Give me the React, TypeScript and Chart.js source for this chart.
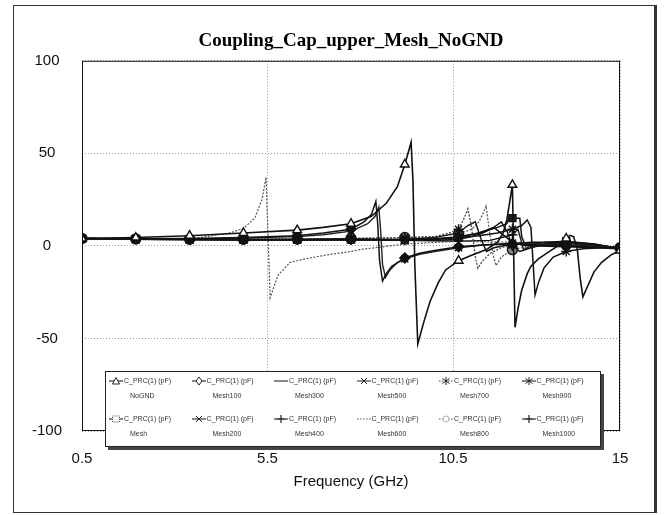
import React, { useEffect, useRef } from "react";
import { Chart, registerables } from "chart.js";
Chart.register(...registerables);

const chartTitle = "Coupling_Cap_upper_Mesh_NoGND";
const xTitle = "Frequency (GHz)";
const legendPrefix = "C_PRC(1) (pF)";
const xTicks = [0.5, 5.5, 10.5, 15];
const yTicks = [-100, -50, 0, 50, 100];
const markerFreqs = [0.5, 1.95, 3.4, 4.85, 6.3, 7.75, 9.2, 10.65, 12.1, 13.55, 15];

const seriesNames = ["NoGND", "Mesh100", "Mesh300", "Mesh500", "Mesh700", "Mesh900", "Mesh", "Mesh200", "Mesh400", "Mesh600", "Mesh800", "Mesh1000"];

const fNoGND = [0.5, 1.95, 3.4, 4.85, 6.3, 7.0, 7.75, 8.3, 8.7, 9.0, 9.2, 9.3, 9.37, 9.42, 9.47, 9.55, 9.7, 9.88, 10.1, 10.3, 10.65, 11.0, 11.4, 11.7, 11.85, 11.95, 12.03, 12.1, 12.13, 12.17, 12.25, 12.35, 12.5, 12.6, 12.8, 13.1, 13.4, 13.55, 13.65, 13.75, 13.85, 13.93, 14.0, 14.1, 14.3, 14.5, 14.75, 15];
const vNoGND = [4, 4.5, 5.5, 7, 8.5, 10, 12, 16, 23, 32, 44, 51, 56, 35, -10, -53, -42, -30, -20, -13, -8, -5, -2, 2, 7, 14, 24, 33, 0, -44, -34, -24, -15, -11, -7, -3, 1, 4, 5.7, 5, -2, -18, -27.5, -23, -14, -9, -5, -2.5];

const fMesh100 = [0.5, 1.95, 3.4, 4.85, 6.3, 7.0, 7.75, 8.1, 8.3, 8.42, 8.47, 8.52, 8.6, 8.7, 8.85, 9.2, 9.6, 10.0, 10.65, 11.3, 12.1, 12.8, 13.55, 14.3, 15];
const vMesh100 = [4, 3.8, 4, 4.5, 5.5, 7, 9, 13, 17, 24, 12, -8, -19, -15, -11, -6.5, -4, -2.5, -0.5, 0.5, 1, 0.5, 0, -0.5, -1];

const fMesh300 = [0.5, 1.95, 3.4, 4.85, 6.3, 7.75, 9.2, 10.0, 10.65, 11.0, 11.3, 11.6, 11.85, 12.1, 12.4, 12.8, 13.55, 14.3, 15];
const vMesh300 = [4, 3.8, 3.6, 3.5, 3.5, 3.8, 3, 3, 3.5, 5, 7, 10, 6, 2, 0.5, 0, -0.5, -1, -1.5];

const fMesh500 = [0.5, 1.95, 3.4, 4.85, 6.3, 7.0, 7.75, 8.2, 8.4, 8.5, 8.55, 8.6, 8.68, 8.8, 9.0, 9.2, 9.6, 10.0, 10.65, 11.3, 12.1, 12.8, 13.55, 14.3, 15];
const vMesh500 = [4, 3.8, 3.8, 4.2, 5, 6, 8, 12, 16, 21, 8, -10, -17, -13, -9, -7, -4.5, -3, -1, 0.5, 1.5, 1, 0.5, 0, -1];

const fMesh700 = [0.5, 1.95, 3.4, 4.85, 6.3, 7.75, 9.2, 10.0, 10.4, 10.65, 10.8, 10.9, 11.0, 11.1, 11.17, 11.3, 11.5, 11.8, 12.1, 12.6, 13.55, 14.3, 15];
const vMesh700 = [4, 3.8, 3.6, 3.6, 3.8, 4, 4.5, 5, 7, 9, 15, 20, 10, -6, -12, -8, -4, -1, 0.5, 1, 0, -0.5, -1];

const fMesh900 = [0.5, 1.95, 3.4, 4.85, 6.3, 7.75, 9.2, 10.0, 10.65, 11.2, 11.7, 12.1, 12.35, 12.5, 12.6, 12.66, 12.71, 12.8, 12.95, 13.2, 13.55, 14.0, 14.5, 15];
const vMesh900 = [4, 3.8, 3.6, 3.5, 3.5, 3.5, 3.5, 3.8, 4.5, 5.5, 7, 9, 11, 14, 10, -10, -26.5, -20, -12, -6, -3, -1.5, -1, -1];

const fMesh = [0.5, 1.95, 3.4, 4.85, 6.3, 7.75, 9.2, 10.0, 10.65, 11.2, 11.7, 11.95, 12.0, 12.1, 12.3, 12.35, 12.45, 12.7, 13.0, 13.55, 14.3, 15];
const vMesh = [4, 3.6, 3.4, 3.3, 3.3, 3.4, 3.2, 3.5, 4.5, 7, 10, 12, 15, 15, 15, 5, 0, 1, 2, 2.5, 1, -1.5];

const fMesh200 = [0.5, 1.95, 3.4, 4.85, 6.3, 7.75, 9.2, 10.0, 10.65, 10.9, 11.1, 11.25, 11.4, 11.6, 12.1, 12.6, 13.55, 14.3, 15];
const vMesh200 = [4, 3.6, 3.4, 3.3, 3.3, 3.5, 3.6, 4.5, 7, 11, 13, 4, -3, -1, 1, 2, 2, 0.5, -1];

const fMesh400 = [0.5, 1.95, 3.4, 4.85, 6.3, 7.75, 9.2, 10.0, 10.65, 11.2, 11.6, 11.8, 11.95, 12.1, 12.3, 12.6, 13.0, 13.55, 14.3, 15];
const vMesh400 = [4, 3.6, 3.4, 3.3, 3.3, 3.3, 3.4, 3.8, 5, 7, 10, 13, 8, 0, -3, -1, 1, 2, 1, -1.5];

const fMesh600 = [0.5, 1.95, 3.4, 3.68, 4.49, 4.85, 5.16, 5.35, 5.46, 5.57, 5.78, 6.1, 6.3, 6.51, 7.18, 7.75, 7.99, 9.2, 10.65, 12.1, 13.55, 15];
const vMesh600 = [4, 4, 4, 4.5, 7, 9.5, 15, 25, 37, -28, -16, -9, -8, -7, -4.6, -3, -2, 1, 2.5, 2, 1, -1];

const fMesh800 = [0.5, 1.95, 3.4, 4.85, 6.3, 7.75, 9.2, 10.0, 10.65, 11.0, 11.2, 11.32, 11.39, 11.48, 11.58, 11.66, 11.8, 12.1, 12.6, 13.55, 14.3, 15];
const vMesh800 = [4, 3.8, 3.6, 3.6, 3.8, 4, 4.5, 5, 6.5, 9, 13, 18, 21.6, 8, -5, -10.6, -6, -2, 0, 0.5, 0, -1];

const fMesh1000 = [0.5, 1.95, 3.4, 4.85, 6.3, 7.75, 9.2, 10.65, 11.5, 12.1, 12.25, 12.4, 12.6, 13.55, 14.3, 15];
const vMesh1000 = [4, 3.6, 3.4, 3.3, 3.2, 3.2, 3, 2.5, 3, 6, 9, -2, 0, 1.5, 0, -1.5];

const seriesFreqs = [fNoGND, fMesh100, fMesh300, fMesh500, fMesh700, fMesh900, fMesh, fMesh200, fMesh400, fMesh600, fMesh800, fMesh1000];
const seriesValues = [vNoGND, vMesh100, vMesh300, vMesh500, vMesh700, vMesh900, vMesh, vMesh200, vMesh400, vMesh600, vMesh800, vMesh1000];

type Sty = { color: string; dash: number[]; marker: string | null; fill: string; width: number };
const styles: Sty[] = [
  { color: "#111", dash: [], marker: "triangle", fill: "#fff", width: 1.6 },
  { color: "#111", dash: [], marker: "rectRot", fill: "#111", width: 1.5 },
  { color: "#111", dash: [], marker: null, fill: "#fff", width: 1.5 },
  { color: "#222", dash: [], marker: "crossRot", fill: "#fff", width: 1.4 },
  { color: "#444", dash: [2, 1.5], marker: "star", fill: "#fff", width: 1.3 },
  { color: "#111", dash: [], marker: "star", fill: "#fff", width: 1.5 },
  { color: "#111", dash: [], marker: "rect", fill: "#222", width: 1.5 },
  { color: "#111", dash: [], marker: "crossRot", fill: "#fff", width: 1.4 },
  { color: "#111", dash: [], marker: "cross", fill: "#fff", width: 1.4 },
  { color: "#555", dash: [2, 1.5], marker: null, fill: "#fff", width: 1.2 },
  { color: "#555", dash: [2, 1.5], marker: "circle", fill: "#888", width: 1.2 },
  { color: "#111", dash: [], marker: "cross", fill: "#fff", width: 1.4 },
];

const framePlugin = {
  id: "plotFrame",
  afterDraw(chart: any) {
    const { ctx, chartArea } = chart;
    const { left, top, right, bottom } = chartArea;
    ctx.save();
    ctx.strokeStyle = "#111";
    ctx.lineWidth = 1;
    ctx.setLineDash([]);
    ctx.strokeRect(left + 0.5, top + 0.5, right - left - 1, bottom - top - 1);
    ctx.restore();
  },
};

function Sym({ s }: { s: Sty }) {
  const c = "#222";
  let m: any = null;
  if (s.marker === "triangle") m = <polygon points="8,1.5 11.5,8 4.5,8" fill="#fff" stroke={c} strokeWidth={1} />;
  else if (s.marker === "rectRot") m = <polygon points="8,1 11,5 8,9 5,5" fill="#fff" stroke={c} strokeWidth={1} />;
  else if (s.marker === "rect") m = <rect x={4.5} y={2} width={7} height={6} fill="#fff" stroke={c} strokeWidth={0.8} strokeDasharray="1,1" />;
  else if (s.marker === "circle") m = <circle cx={8} cy={5} r={3} fill="#fff" stroke="#999" strokeWidth={0.8} />;
  else if (s.marker === "cross") m = <path d="M8,1 L8,9 M4,5 L12,5" stroke={c} strokeWidth={1.2} />;
  else if (s.marker === "crossRot") m = <path d="M5,2 L11,8 M11,2 L5,8" stroke={c} strokeWidth={1} />;
  else if (s.marker === "star") m = <path d="M8,1 L8,9 M4.5,2.5 L11.5,7.5 M11.5,2.5 L4.5,7.5" stroke={c} strokeWidth={1} />;
  return (
    <svg width={16} height={10} style={{ position: "absolute", left: 0, top: 0 }}>
      <line x1={1} y1={5} x2={15} y2={5} stroke={s.color} strokeWidth={1} strokeDasharray={s.dash.length ? "1.5,1.5" : undefined} />
      {m}
    </svg>
  );
}

export default function App() {
  const ref = useRef<HTMLCanvasElement>(null);
  useEffect(() => {
    if (!ref.current) return;
    const datasets = seriesNames.map((name, i) => {
      const s = styles[i];
      const fs = seriesFreqs[i];
      const vs = seriesValues[i];
      return {
        label: name,
        data: fs.map((x, j) => ({ x, y: vs[j] })),
        borderColor: s.color,
        borderWidth: s.width,
        borderDash: s.dash,
        tension: 0,
        fill: false,
        pointStyle: s.marker || "circle",
        pointRadius: (ctx: any) => {
          if (!s.marker || !ctx.raw) return 0;
          return markerFreqs.includes(ctx.raw.x) ? 5 : 0;
        },
        pointHoverRadius: 0,
        pointBorderColor: "#111",
        pointBorderWidth: 1.4,
        pointBackgroundColor: s.fill,
      };
    });
    const chart = new Chart(ref.current, {
      type: "line",
      data: { datasets },
      plugins: [framePlugin],
      options: {
        animation: false,
        responsive: false,
        events: [],
        layout: { padding: { left: 0, right: 49, top: 0, bottom: 0 } },
        plugins: {
          legend: { display: false },
          tooltip: { enabled: false },
          title: {
            display: true,
            text: chartTitle,
            fullSize: false,
            color: "#000",
            font: { family: "'Liberation Serif', serif", size: 19, weight: "bold" },
            padding: { top: 30, bottom: 8 },
          },
        },
        scales: {
          x: {
            type: "linear",
            min: 0.5,
            max: 15,
            afterBuildTicks: (sc: any) => {
              sc.ticks = xTicks.map((v) => ({ value: v }));
            },
            afterFit: (sc: any) => {
              sc.height = 84;
            },
            ticks: {
              autoSkip: false,
              maxRotation: 0,
              padding: 19,
              color: "#111",
              font: { family: "'Liberation Sans', Arial, sans-serif", size: 15 },
              callback: (v: any) => String(v),
            },
            grid: { color: "#999", lineWidth: 1, drawTicks: false },
            border: { display: false, dash: [1, 2] },
            title: {
              display: true,
              text: xTitle,
              color: "#111",
              font: { family: "'Liberation Sans', Arial, sans-serif", size: 15 },
              padding: { top: 0, bottom: 24 },
            },
          },
          y: {
            type: "linear",
            min: -100,
            max: 100,
            afterBuildTicks: (sc: any) => {
              sc.ticks = yTicks.map((v) => ({ value: v }));
            },
            afterFit: (sc: any) => {
              sc.width = 82;
            },
            ticks: {
              padding: 20,
              crossAlign: "center",
              color: "#111",
              font: { family: "'Liberation Sans', Arial, sans-serif", size: 15 },
              callback: (v: any) => String(v),
            },
            grid: { color: "#999", lineWidth: 1, drawTicks: false },
            border: { display: false, dash: [1, 2] },
          },
        },
      } as any,
    });
    return () => chart.destroy();
  }, []);

  return (
    <div style={{ position: "fixed", left: 0, top: 0, width: 669, height: 515, background: "#fff", overflow: "hidden" }}>
      <canvas ref={ref} width={669} height={515} style={{ display: "block", position: "absolute", left: 0, top: 0 }} />
      <div
        style={{
          position: "absolute", left: 13, top: 5, width: 644, height: 508, boxSizing: "border-box",
          border: "1px solid #333", borderRight: "3px solid #333", pointerEvents: "none",
        }}
      />
      <div
        style={{
          position: "absolute", left: 105, top: 371, width: 496, height: 76, boxSizing: "border-box",
          border: "1px solid #222", background: "#fff", boxShadow: "3px 3px 0 #444",
          fontFamily: "'Liberation Sans', Arial, sans-serif", fontSize: 7, color: "#333",
        }}
      >
        {seriesNames.map((name, i) => {
          const col = i % 6;
          const row = Math.floor(i / 6);
          return (
            <div key={name} style={{ position: "absolute", left: 2 + col * 82.5, top: 4 + row * 38, width: 82, height: 30 }}>
              <Sym s={styles[i]} />
              <div style={{ position: "absolute", left: 16, top: 1, whiteSpace: "nowrap", lineHeight: "8px" }}>{legendPrefix}</div>
              <div style={{ position: "absolute", left: 22, top: 16, whiteSpace: "nowrap", lineHeight: "8px" }}>{name}</div>
            </div>
          );
        })}
      </div>
    </div>
  );
}
